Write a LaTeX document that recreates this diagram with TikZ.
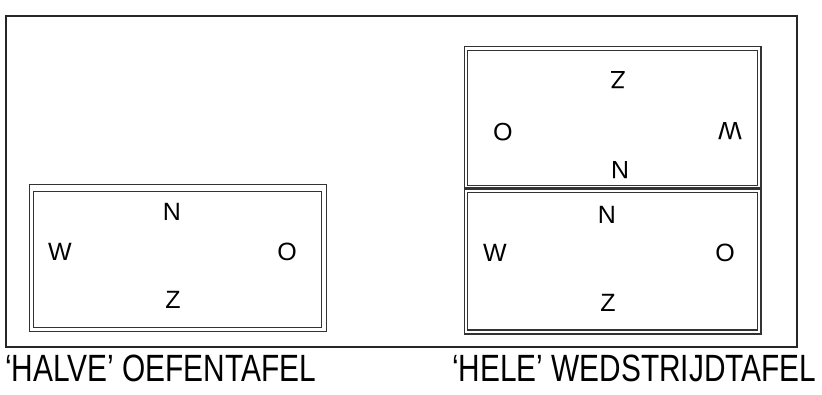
\documentclass[tikz,border=0pt]{standalone}
\usepackage{fontspec}
\setmainfont{Liberation Sans}
\begin{document}
\begin{tikzpicture}[x=1pt,y=-1pt,
  frame/.style={draw=black!85,line width=1.5pt},
  tab/.style={draw=black!80,line width=1.5pt},
  lbl/.style={font=\fontsize{25}{25}\selectfont,inner sep=0pt,anchor=center},
  captxt/.style={font=\fontsize{38}{38}\selectfont,inner sep=0pt,anchor=north west}]
\useasboundingbox (0,0) rectangle (822,395);
\draw[frame] (6,16) rectangle (797,347);
% left table
\draw[tab] (29.3,184.5) rectangle (326.7,331.7);
\draw[tab] (33.3,191.5) rectangle (321.7,327.7);
\node[lbl] (ln) at (172,212) {N};
\node[lbl] (lw) at (60,252) {W};
\node[lbl] (lo) at (287,252) {O};
\node[lbl] (lz) at (173,300) {Z};
% right upper table
\draw[tab] (464.3,46.7) rectangle (761,188);
\draw[tab] (467.7,50.7) rectangle (757.7,185.7);
\node[lbl,rotate=180] (uz) at (618,80) {Z};
\node[lbl,rotate=180] (uo) at (503,132) {O};
\node[lbl,rotate=180] (uw) at (730,131) {W};
\node[lbl,rotate=180] (un) at (620,170) {N};
% right lower table
\draw[tab] (464.3,189) rectangle (761,334);
\draw[tab] (467.7,192.3) rectangle (757.7,330);
\node[lbl] (rn) at (607,215) {N};
\node[lbl] (rw) at (495,253) {W};
\node[lbl] (ro) at (725,253) {O};
\node[lbl] (rz) at (608,303) {Z};
% captions
\node[captxt] (c1) at (5,355) {\resizebox{311pt}{\height}{‘HALVE’ OEFENTAFEL}};
\node[captxt] (c2) at (452,355) {\resizebox{364pt}{\height}{‘HELE’ WEDSTRIJDTAFEL}};
\end{tikzpicture}
\end{document}
